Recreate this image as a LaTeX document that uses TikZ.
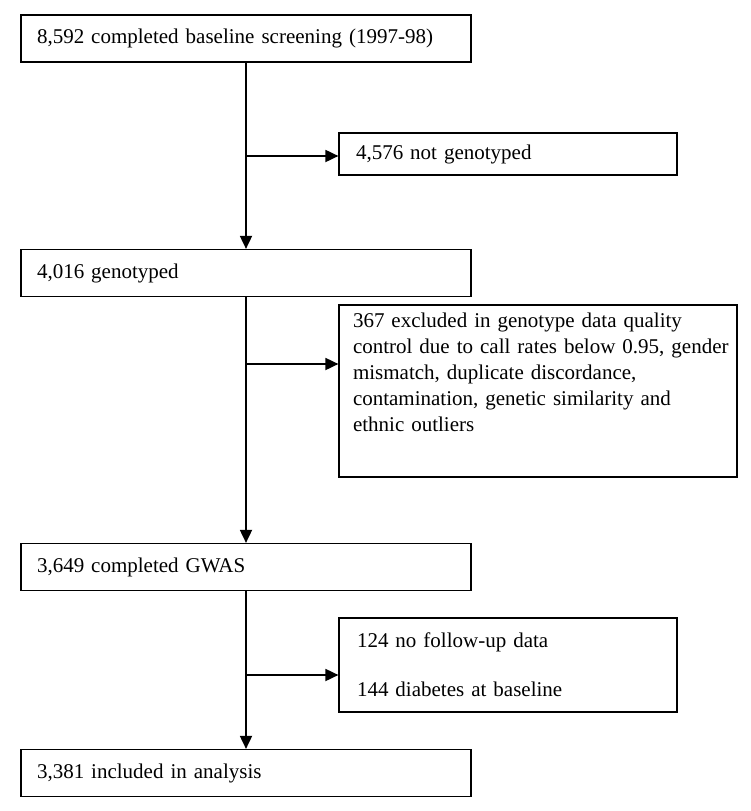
\documentclass[tikz,border=0pt]{standalone}
\usepackage{fontspec}
\setmainfont{Liberation Serif}
\usetikzlibrary{arrows.meta}

\begin{document}
\begin{tikzpicture}[x=1pt, y=-1pt,
                    font=\fontsize{21}{26}\selectfont,
                    >={Triangle[length=13pt, width=12pt]},
                    flow/.style={line width=1.8pt},
                    box/.style={draw, line width=1.2pt, align=left},
                    mainbox/.style={box, text width=418pt, inner xsep=16pt, minimum height=47pt}]
                      \useasboundingbox (0, 0) rectangle (751, 811);

                      % Main column
                      \node [mainbox] (start) at (246, 38.5) {\mbox{8,592 completed baseline screening (1997-98)}};
                      \node [mainbox] (geno) at (246, 273) {\mbox{4,016 genotyped}};
                      \node [mainbox] (gwas) at (246, 567) {\mbox{3,649 completed GWAS}};
                      \node [mainbox] (analysis) at (246, 773) {\mbox{3,381 included in analysis}};

                      % Exclusion boxes
                      \node [box, text width=304pt, inner xsep=17pt, minimum height=42pt] (notgeno) at (508, 154) {\mbox{4,576 not genotyped}};
                      \node [box, text width=370pt, inner xsep=14pt, inner ysep=8pt,
                             text height=14pt, text depth=142pt] (qc) at (538, 391)
                            {\mbox{367 excluded in genotype data quality}\\
                             \mbox{control due to call rates below 0.95, gender}\\
                             \mbox{mismatch, duplicate discordance,}\\
                             \mbox{contamination, genetic similarity and}\\
                             \mbox{ethnic outliers}};
                      \node [box, text width=302pt, inner xsep=18pt, minimum height=94pt] (nofollow) at (508, 665)
                            {\mbox{124 no follow-up data}\\[23pt]
                             \mbox{144 diabetes at baseline}};

                      % Branch points
                      \coordinate (b1) at (246, 156);
                      \coordinate (b2) at (246, 364);
                      \coordinate (b3) at (246, 675);

                      \draw [->, flow] (start) -- (geno);
                      \draw [->, flow] (geno) -- (gwas);
                      \draw [->, flow] (gwas) -- (analysis);

                      \draw [->, flow] (b1) -- (b1 -| notgeno.west);
                      \draw [->, flow] (b2) -- (b2 -| qc.west);
                      \draw [->, flow] (b3) -- (b3 -| nofollow.west);
\end{tikzpicture}
\end{document}
